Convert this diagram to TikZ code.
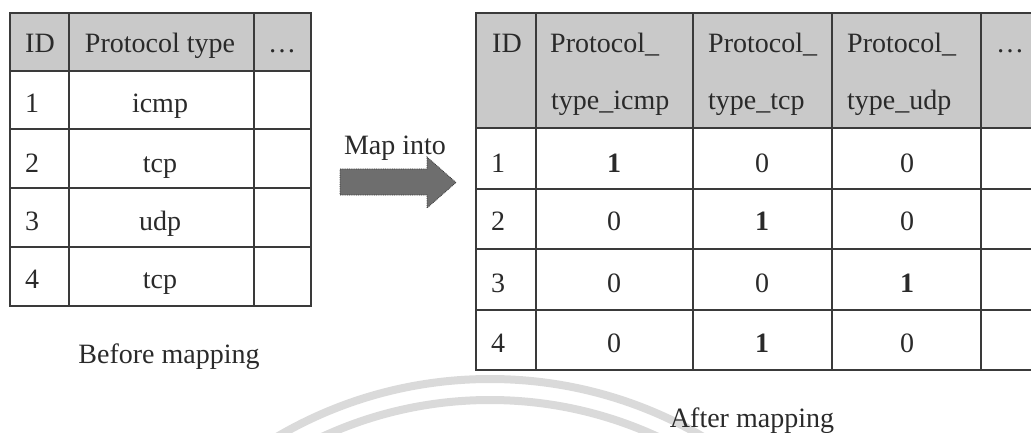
\documentclass[tikz,border=0pt]{standalone}
\usepackage{fontspec}
\setmainfont{Liberation Serif}
\definecolor{linec}{HTML}{3A3A3A}
\definecolor{txt}{HTML}{2A2A2A}
\definecolor{headfill}{HTML}{C9C9C9}
\definecolor{arrowfill}{HTML}{6E6E6E}
\definecolor{wmark}{HTML}{DADADA}
\begin{document}
\begin{tikzpicture}[x=1pt,y=-1pt,
  font=\fontsize{28}{34}\selectfont,
  grid/.style={draw=linec, line width=1.4pt},
  head/.style={fill=headfill},
  lcell/.style={anchor=base west, inner sep=0pt, text=txt},
  ccell/.style={anchor=base, inner sep=0pt, text=txt},
  bcell/.style={ccell, font=\fontsize{28}{34}\selectfont\bfseries},
  blockarrow/.style={fill=arrowfill, draw=linec, line width=0.8pt, densely dotted}]
\useasboundingbox (0,0) rectangle (1031,433);
\clip (0,0) rectangle (1031,433);

% faint background arcs
\draw[wmark, line width=8pt] (490,800) circle[radius=421];
\draw[wmark, line width=8pt] (490,800) circle[radius=400];

% ---- table before mapping ----
\fill[head] (10,13) rectangle (311,71);
\draw[grid] (10,13) rectangle (311,306);
\foreach \yy in {71,129,188,247} \draw[grid] (10,\yy) -- (311,\yy);
\foreach \xx in {69,254} \draw[grid] (\xx,13) -- (\xx,306);

\node[lcell] (lid) at (25,53) {ID};
\node[ccell] (lpt) at (160,53) {Protocol type};
\node[ccell] (ldots) at (282,53) {…};
\node[lcell] (l1) at (25,113) {1};
\node[lcell] (l2) at (25,172) {2};
\node[lcell] (l3) at (25,230) {3};
\node[lcell] (l4) at (25,288) {4};
\node[ccell] (lv1) at (160,113) {icmp};
\node[ccell] (lv2) at (160,172) {tcp};
\node[ccell] (lv3) at (160,230) {udp};
\node[ccell] (lv4) at (160,288) {tcp};

\node[ccell] (before) at (169,363) {Before mapping};

% ---- block arrow ----
\node[ccell] (mapinto) at (395,155) {Map into};
\path[blockarrow] (340,169) -- (427,169) -- (427,157) -- (456,182.5)
  -- (427,208) -- (427,195) -- (340,195) -- cycle;

% ---- table after mapping ----
\fill[head] (476,13) rectangle (1045,128);
\draw[grid] (1045,13) -- (476,13) -- (476,370) -- (1045,370);
\foreach \yy in {128,189,249,310} \draw[grid] (476,\yy) -- (1045,\yy);
\foreach \xx in {536,693,832,981} \draw[grid] (\xx,13) -- (\xx,370);

\node[lcell] (rid) at (492,53) {ID};
\node[lcell] (h1a) at (550,53) {Protocol\_};
\node[lcell] (h1b) at (551,110) {type\_icmp};
\node[lcell] (h2a) at (708,53) {Protocol\_};
\node[lcell] (h2b) at (708,110) {type\_tcp};
\node[lcell] (h3a) at (847,53) {Protocol\_};
\node[lcell] (h3b) at (847,110) {type\_udp};
\node[lcell] (rdots) at (996,53) {…};

\node[lcell] (r1) at (491,172) {1};
\node[lcell] (r2) at (491,230) {2};
\node[lcell] (r3) at (491,292) {3};
\node[lcell] (r4) at (491,352) {4};

\node[bcell] (a11) at (614,172) {1};
\node[ccell] (a12) at (762,172) {0};
\node[ccell] (a13) at (907,172) {0};
\node[ccell] (a21) at (614,230) {0};
\node[bcell] (a22) at (762,230) {1};
\node[ccell] (a23) at (907,230) {0};
\node[ccell] (a31) at (614,292) {0};
\node[ccell] (a32) at (762,292) {0};
\node[bcell] (a33) at (907,292) {1};
\node[ccell] (a41) at (614,352) {0};
\node[bcell] (a42) at (762,352) {1};
\node[ccell] (a43) at (907,352) {0};

\node[ccell] (after) at (752,427) {After mapping};
\end{tikzpicture}
\end{document}
